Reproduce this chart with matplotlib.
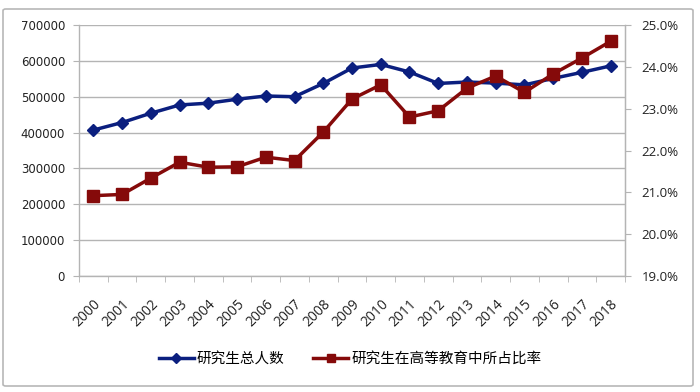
import matplotlib
matplotlib.use("Agg")
import matplotlib.pyplot as plt
from matplotlib.patches import FancyBboxPatch
from matplotlib.ticker import FuncFormatter, MultipleLocator
import numpy as np

years = [str(y) for y in range(2000, 2019)]
total_students = [407000, 428000, 454000, 477000, 482000, 493000, 502000, 500000, 537000,
                  580000, 590000, 569000, 537000, 541000, 538000, 533000, 551000, 568000, 586000]
ratio_pct = [20.92, 20.95, 21.34, 21.72, 21.60, 21.61, 21.84, 21.76, 22.44,
             23.23, 23.57, 22.80, 22.95, 23.49, 23.78, 23.39, 23.83, 24.21, 24.61]
label_total = "研究生总人数"
label_ratio = "研究生在高等教育中所占比率"

plt.rcParams['font.family'] = ['DejaVu Sans']
W, H = 700, 392
fig = plt.figure(figsize=(W / 100, H / 100), dpi=100)

# outer border
border = FancyBboxPatch((3 / W, 6 / H), 690 / W, 377 / H, boxstyle="round,pad=0,rounding_size=0.004",
                        transform=fig.transFigure, fill=False, edgecolor="#b8b8b8", linewidth=1.2)
fig.patches.append(border)

ax = fig.add_axes([79 / W, 1 - 276 / H, 546 / W, 251 / H])
x = np.arange(len(years))
blue = "#0b1f7f"
red = "#850a0a"
grid_c = "#b4b4b4"

l1, = ax.plot(x, total_students, color=blue, lw=2.5, marker="D", ms=6.5, zorder=3, label=label_total)
ax.set_xlim(-0.5, len(years) - 0.5)
ax.set_ylim(0, 700000)
ax.yaxis.set_major_locator(MultipleLocator(100000))
ax.grid(axis="y", color=grid_c, lw=1)
ax.set_axisbelow(True)
for s in ["top"]:
    ax.spines[s].set_visible(False)
for s in ["left", "bottom", "right"]:
    ax.spines[s].set_color(grid_c)
    ax.spines[s].set_linewidth(1)
ax.set_xticks(x)
ax.set_xticklabels(years, rotation=45, ha="right", rotation_mode="anchor",
                   fontsize=10, fontfamily="Open Sans", color="#222222")
ax.set_xticks(np.arange(-0.5, len(years), 1), minor=True)
ax.tick_params(axis="x", which="major", length=0, pad=15)
ax.tick_params(axis="x", which="minor", length=4, color=grid_c)
ax.tick_params(axis="y", length=4, color=grid_c, labelsize=8.5, labelcolor="#222222", pad=6)

ax2 = ax.twinx()
l2, = ax2.plot(x, ratio_pct, color=red, lw=2.5, marker="s", ms=8, zorder=3, label=label_ratio)
ax2.set_ylim(19, 25)
ax2.yaxis.set_major_locator(MultipleLocator(1))
ax2.yaxis.set_major_formatter(FuncFormatter(lambda v, p: f"{v:.1f}%"))
for s in ["top", "left", "bottom"]:
    ax2.spines[s].set_visible(False)
ax2.spines["right"].set_color(grid_c)
ax2.tick_params(axis="y", length=4, color=grid_c, labelsize=9.5, labelcolor="#222222", pad=8)
for t in ax2.get_yticklabels():
    t.set_fontfamily("Open Sans")

fig.legend([l1, l2], [label_total, label_ratio], loc="center", bbox_to_anchor=(350 / W, 1 - 359 / H),
           ncol=2, frameon=False, prop={"family": ["Noto Sans CJK SC", "DejaVu Sans"], "size": 10.5},
           handlelength=2.4, handletextpad=0.2, columnspacing=2.0, markerscale=0.8)

fig.savefig("out.png", dpi=100)
